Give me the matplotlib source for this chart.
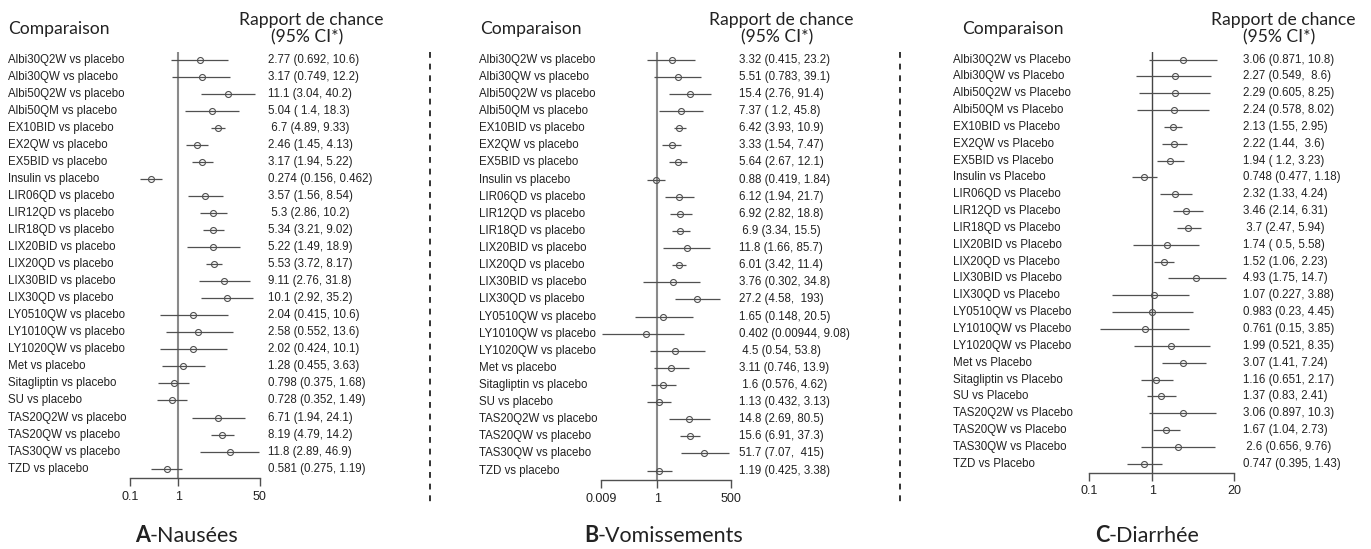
import numpy as np
import matplotlib.pyplot as plt
from matplotlib.transforms import blended_transform_factory
from matplotlib.ticker import NullLocator, FixedLocator, FixedFormatter

# treatments compared with placebo (same order in the three panels)
treatments = ["Albi30Q2W", "Albi30QW", "Albi50Q2W", "Albi50QM", "EX10BID", "EX2QW",
              "EX5BID", "Insulin", "LIR06QD", "LIR12QD", "LIR18QD", "LIX20BID",
              "LIX20QD", "LIX30BID", "LIX30QD", "LY0510QW", "LY1010QW", "LY1020QW",
              "Met", "Sitagliptin", "SU", "TAS20Q2W", "TAS20QW", "TAS30QW", "TZD"]

# A - Nausees : odds ratio, lower, upper
nausea_or = [2.77, 3.17, 11.1, 5.04, 6.7, 2.46, 3.17, 0.274, 3.57, 5.3, 5.34, 5.22,
             5.53, 9.11, 10.1, 2.04, 2.58, 2.02, 1.28, 0.798, 0.728, 6.71, 8.19, 11.8, 0.581]
nausea_lo = [0.692, 0.749, 3.04, 1.4, 4.89, 1.45, 1.94, 0.156, 1.56, 2.86, 3.21, 1.49,
             3.72, 2.76, 2.92, 0.415, 0.552, 0.424, 0.455, 0.375, 0.352, 1.94, 4.79, 2.89, 0.275]
nausea_hi = [10.6, 12.2, 40.2, 18.3, 9.33, 4.13, 5.22, 0.462, 8.54, 10.2, 9.02, 18.9,
             8.17, 31.8, 35.2, 10.6, 13.6, 10.1, 3.63, 1.68, 1.49, 24.1, 14.2, 46.9, 1.19]

# B - Vomissements
vomit_or = [3.32, 5.51, 15.4, 7.37, 6.42, 3.33, 5.64, 0.88, 6.12, 6.92, 6.9, 11.8,
            6.01, 3.76, 27.2, 1.65, 0.402, 4.5, 3.11, 1.6, 1.13, 14.8, 15.6, 51.7, 1.19]
vomit_lo = [0.415, 0.783, 2.76, 1.2, 3.93, 1.54, 2.67, 0.419, 1.94, 2.82, 3.34, 1.66,
            3.42, 0.302, 4.58, 0.148, 0.00944, 0.54, 0.746, 0.576, 0.432, 2.69, 6.91, 7.07, 0.425]
vomit_hi = [23.2, 39.1, 91.4, 45.8, 10.9, 7.47, 12.1, 1.84, 21.7, 18.8, 15.5, 85.7,
            11.4, 34.8, 193, 20.5, 9.08, 53.8, 13.9, 4.62, 3.13, 80.5, 37.3, 415, 3.38]

# C - Diarrhee
diar_or = [3.06, 2.27, 2.29, 2.24, 2.13, 2.22, 1.94, 0.748, 2.32, 3.46, 3.7, 1.74,
           1.52, 4.93, 1.07, 0.983, 0.761, 1.99, 3.07, 1.16, 1.37, 3.06, 1.67, 2.6, 0.747]
diar_lo = [0.871, 0.549, 0.605, 0.578, 1.55, 1.44, 1.2, 0.477, 1.33, 2.14, 2.47, 0.5,
           1.06, 1.75, 0.227, 0.23, 0.15, 0.521, 1.41, 0.651, 0.83, 0.897, 1.04, 0.656, 0.395]
diar_hi = [10.8, 8.6, 8.25, 8.02, 2.95, 3.6, 3.23, 1.18, 4.24, 6.31, 5.94, 5.58,
           2.23, 14.7, 3.88, 4.45, 3.85, 8.35, 7.24, 2.17, 2.41, 10.3, 2.73, 9.76, 1.43]

W, H = 1371, 549
fig = plt.figure(figsize=(W / 100, H / 100), dpi=100)
fig.patch.set_facecolor("white")

label_font = ["Liberation Sans", "DejaVu Sans"]
head_font = ["Lato", "DejaVu Sans"]
txt_col = "#222222"
line_col = "#505050"


def px_axes(x0, y0, x1, y1):
    return fig.add_axes([x0 / W, 1 - y1 / H, (x1 - x0) / W, (y1 - y0) / H])


def forest(box, origin, scale, ticks, ticklabels, o, lo, hi, suffix,
           label_x, est_x, ref_col, ref_lw):
    x0, y0, x1, y1 = box
    ax = px_axes(x0, y0, x1, y1)
    ax.set_xscale("log")
    ax.set_xlim(10 ** ((x0 - origin) / scale), 10 ** ((x1 - origin) / scale))
    n = len(o)
    ax.set_ylim(n - 0.45, -0.45)
    ax.patch.set_alpha(0)
    for s in ["top", "right", "left"]:
        ax.spines[s].set_visible(False)
    ax.spines["bottom"].set_bounds(ticks[0], ticks[-1])
    ax.spines["bottom"].set_color(line_col)
    ax.spines["bottom"].set_linewidth(1.0)
    ax.xaxis.set_major_locator(FixedLocator(ticks))
    ax.xaxis.set_major_formatter(FixedFormatter(ticklabels))
    ax.xaxis.set_minor_locator(NullLocator())
    ax.tick_params(axis="x", direction="out", length=6, width=1.0, color=line_col,
                   pad=3, labelsize=9, labelcolor=txt_col)
    for lab in ax.get_xticklabels():
        lab.set_family(label_font)
    ax.set_yticks([])

    ax.axvline(1, color=ref_col, lw=ref_lw, zorder=1)
    y = np.arange(n)
    ax.hlines(y, lo, hi, color=line_col, lw=0.9, zorder=2)
    ax.plot(o, y, "o", ms=4.3, mfc="none", mec=line_col, mew=0.8, zorder=3)

    tr_lab = blended_transform_factory(fig.transFigure, ax.transData)
    for i in range(n):
        ax.text(label_x / W, i, treatments[i] + suffix, transform=tr_lab,
                ha="left", va="center", fontsize=8.3, color=txt_col,
                family=label_font)
        est = "{:>4} ({:>4}, {:>4})".format("%g" % o[i], "%g" % lo[i], "%g" % hi[i])
        ax.text(est_x / W, i, est, transform=tr_lab, ha="left", va="center",
                fontsize=8.3, color=txt_col, family=label_font)
    return ax


forest((120, 52, 275, 478), 178.3, 48.0, [0.1, 1, 50], ["0.1", "1", "50"],
       nausea_or, nausea_lo, nausea_hi, " vs placebo", 8, 268, "#8a8a8a", 1.5)
forest((590, 52, 740, 480), 657.3, 27.4, [0.009, 1, 500], ["0.009", "1", "500"],
       vomit_or, vomit_lo, vomit_hi, " vs placebo", 479, 739, "#8a8a8a", 1.5)
forest((1075, 52, 1245, 473), 1152.3, 62.9, [0.1, 1, 20], ["0.1", "1", "20"],
       diar_or, diar_lo, diar_hi, " vs Placebo", 953, 1243, "#444444", 1.0)

# overlay in pixel coordinates for headers, titles and separators
bg = fig.add_axes([0, 0, 1, 1])
bg.set_xlim(0, W)
bg.set_ylim(H, 0)
bg.axis("off")
bg.patch.set_alpha(0)

panels = [("A", "-Nausées", 8, 311, 150),
          ("B", "-Vomissements", 480, 781, 598),
          ("C", "-Diarrhée", 962, 1283, 1109)]
for letter, name, cx, rx, tx in panels:
    bg.text(cx, 29, "Comparaison", ha="left", va="center", fontsize=12.6,
            color="#222222", family=head_font)
    bg.text(rx, 20, "Rapport de chance", ha="center", va="center", fontsize=12.6,
            color="#222222", family=head_font)
    bg.text(rx - 4, 37, "(95% CI*)", ha="center", va="center", fontsize=12.6,
            color="#222222", family=head_font)
    bg.text(tx, 536, letter, ha="right", va="center", fontsize=15.5,
            fontweight="bold", color="#222222", family=head_font)
    bg.text(tx, 536, name, ha="left", va="center", fontsize=15.5,
            color="#222222", family=head_font)

for sx in [430, 900]:
    bg.plot([sx, sx], [52, 507], color="#333333", lw=1.4, ls=(0, (3, 3)))

fig.savefig("out.png", dpi=100)
